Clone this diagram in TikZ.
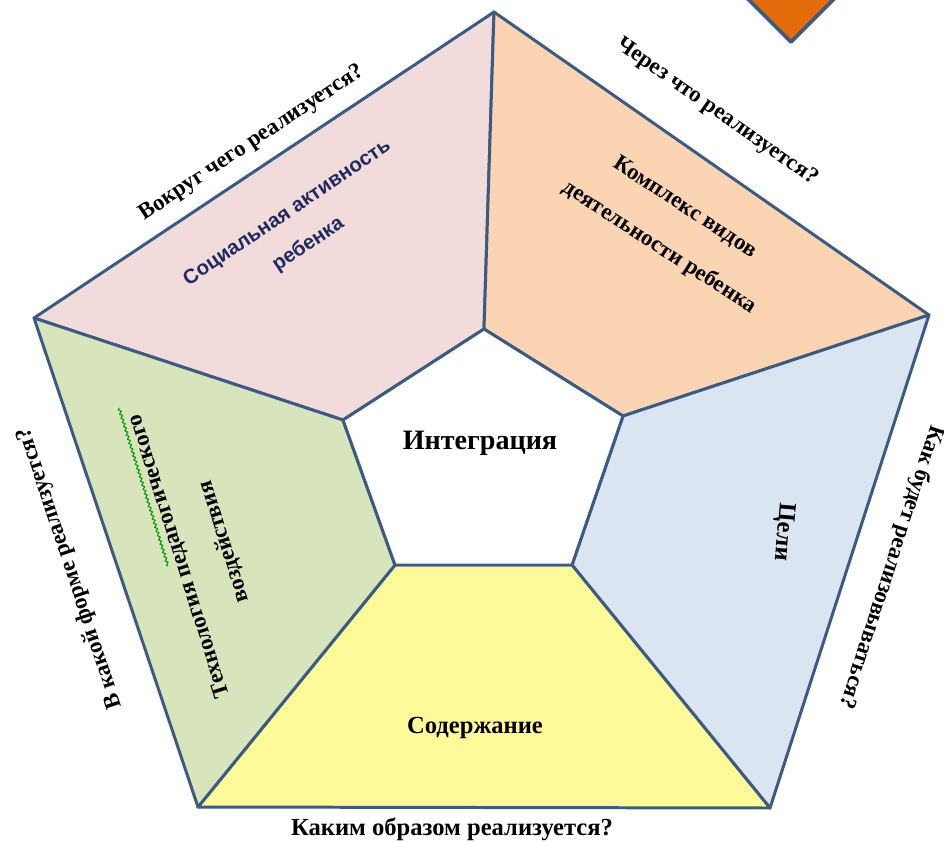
\documentclass[tikz,border=0pt]{standalone}
\usepackage{fontspec}
\setmainfont{Liberation Serif}
\newfontfamily\arialfont{Liberation Sans}
\usetikzlibrary{decorations.pathmorphing}
\definecolor{edgeblue}{HTML}{3B5B82}
\definecolor{pinkpart}{HTML}{F2DCDB}
\definecolor{peachpart}{HTML}{FBD4B4}
\definecolor{bluepart}{HTML}{DBE5F1}
\definecolor{yellowpart}{HTML}{FFFA99}
\definecolor{greenpart}{HTML}{D7E4BC}
\definecolor{tiporange}{HTML}{E46C0A}
\definecolor{navytext}{HTML}{1F2A5E}

\begin{document}
\begin{tikzpicture}[x=0.02cm,y=-0.02cm,line join=round]
    %
    % `part' is used for the five outer pieces, `core' for the middle one.
    % `question' is used for the questions round the edges.
    \tikzstyle{part} = [draw=edgeblue,line width=1.7pt]
    \tikzstyle{core} = [draw=edgeblue,fill=white,line width=1.7pt]
    \tikzstyle{question} = [font=\fontsize{13}{15}\selectfont\bfseries,inner sep=0pt]
    \tikzstyle{inside} = [font=\fontsize{13}{27}\selectfont\bfseries,align=center,inner sep=0pt]
    %
    \useasboundingbox (0,0) rectangle (944,842);
    \clip (0,0) rectangle (944,842);
    %
    % Outer corners
    \coordinate (o1) at (494,12);
    \coordinate (o2) at (929,315);
    \coordinate (o3) at (770,808);
    \coordinate (o4) at (198,807);
    \coordinate (o5) at (34,318);
    %
    % Inner corners
    \coordinate (i1) at (484,329);
    \coordinate (i2) at (623,416);
    \coordinate (i3) at (572,565);
    \coordinate (i4) at (395,565);
    \coordinate (i5) at (343,420);
    %
    % Pieces
    \filldraw[part,fill=pinkpart] (o5) -- (o1) -- (i1) -- (i5) -- cycle;
    \filldraw[part,fill=peachpart] (o1) -- (o2) -- (i2) -- (i1) -- cycle;
    \filldraw[part,fill=bluepart] (o2) -- (o3) -- (i3) -- (i2) -- cycle;
    \filldraw[part,fill=yellowpart] (o3) -- (o4) -- (i4) -- (i3) -- cycle;
    \filldraw[part,fill=greenpart] (o4) -- (o5) -- (i5) -- (i4) -- cycle;
    \filldraw[core] (i1) -- (i2) -- (i3) -- (i4) -- (i5) -- cycle;
    %
    % Arrow tip at the top
    \filldraw[draw=edgeblue,fill=tiporange,line width=2.2pt] (743,-6) -- (791,42) -- (839,-6);
    %
    % Middle
    \node[font=\fontsize{16}{18}\selectfont\bfseries] (core) at (480,443) {Интеграция};
    %
    % Texts in the pieces
    \node[inside,font=\arialfont\fontsize{11.6}{21.5}\selectfont\bfseries,text=navytext,rotate=34] (social) at (298,229) {Социальная активность\\ребенка};
    \node[inside,rotate=-33] (activity) at (672,228) {Комплекс видов\\деятельности ребенка};
    \node[inside,font=\fontsize{14}{16}\selectfont\bfseries,rotate=-95] (aims) at (783,532) {Цели};
    \node[inside,font=\fontsize{14}{16}\selectfont\bfseries] (content) at (475,728) {Содержание};
    \node[inside,rotate=107.5] (technology) at (202,549) {Технология педагогического\\воздействия};
    \draw[green!60!black,line width=0.6pt,decorate,decoration={snake,amplitude=0.7pt,segment length=2.5pt}] (168,566) -- (119,408);
    %
    % Questions
    \node[question,rotate=33.6] (q1) at (252,143) {Вокруг чего реализуется?};
    \node[question,rotate=-35] (q2) at (717,112) {Через что реализуется?};
    \node[question,rotate=-108] (q3) at (891,567) {Как будет реализовываться?};
    \node[question,font=\fontsize{14}{16}\selectfont\bfseries] (q4) at (452,829) {Каким образом реализуется?};
    \node[question,rotate=108.4] (q5) at (70,568) {В какой форме реализуется?};
    %
\end{tikzpicture}
\end{document}
